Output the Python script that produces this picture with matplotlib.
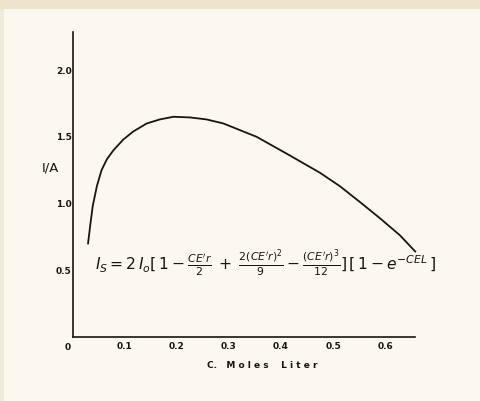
import matplotlib.pyplot as plt
from matplotlib.patches import Rectangle

# curve (C in mol/L, I/A)
conc = [0.029, 0.033, 0.038, 0.046, 0.055, 0.065, 0.078, 0.097, 0.116,
        0.142, 0.167, 0.193, 0.225, 0.257, 0.289, 0.321, 0.353, 0.385,
        0.417, 0.437, 0.475, 0.513, 0.552, 0.590, 0.629, 0.658]
ratio = [0.70, 0.83, 0.98, 1.13, 1.25, 1.33, 1.40, 1.48, 1.54,
         1.60, 1.63, 1.65, 1.645, 1.63, 1.60, 1.55, 1.50, 1.43,
         1.36, 1.315, 1.23, 1.13, 1.01, 0.89, 0.76, 0.64]

xticks = [0.1, 0.2, 0.3, 0.4, 0.5, 0.6]
xticklabels = ['0.1', '0.2', '0.3', '0.4', '0.5', '0.6']
yticks = [0.5, 1.0, 1.5, 2.0]
yticklabels = ['0.5', '1.0', '1.5', '2.0']

bg = '#fbf9ef'
ink = '#1a1410'
plt.rcParams['mathtext.fontset'] = 'dejavusans'

fig = plt.figure(figsize=(4.8, 4.01), dpi=100, facecolor=bg)
# scanner edge at the top and left
fig.patches.append(Rectangle((0, 0.978), 1, 0.022, transform=fig.transFigure,
                             facecolor='#ece5cc', edgecolor='none'))
fig.patches.append(Rectangle((0, 0), 0.008, 0.978, transform=fig.transFigure,
                             facecolor='#eeebdc', edgecolor='none'))

ax = fig.add_axes([0.152, 0.160, 0.713, 0.760], facecolor=bg)
ax.plot(conc, ratio, color=ink, lw=1.3, clip_on=False,
        solid_joinstyle='round')

ax.set_xlim(0, 0.658)
ax.set_ylim(0, 2.285)
for s in ['top', 'right']:
    ax.spines[s].set_visible(False)
for s in ['left', 'bottom']:
    ax.spines[s].set_color(ink)
    ax.spines[s].set_linewidth(1.2)

ax.set_xticks(xticks)
ax.set_xticklabels(xticklabels, fontsize=6.5, fontweight='bold', color=ink)
ax.set_yticks(yticks)
ax.set_yticklabels(yticklabels, fontsize=6.5, fontweight='bold', color=ink)
ax.tick_params(length=0)
ax.tick_params(axis='x', pad=4)
ax.tick_params(axis='y', pad=1)
ax.text(-0.004, -0.045, '0', fontsize=6.5, fontweight='bold', color=ink,
        ha='right', va='top')

fig.text(262 / 480, 1 - 366 / 401, 'C.   M o l e s    L i t e r',
         fontsize=6.5, fontweight='bold', color=ink, ha='center', va='center')
fig.text(50 / 480, 1 - 168 / 401, 'I/A', fontsize=9.5, color=ink,
         ha='center', va='center')

eq = (r"$I_S = 2\,I_o[\,1-\frac{CE'r}{2}\;+\;\frac{2(CE'r)^2}{9}"
      r"-\frac{(CE'r)^3}{12}]\,[\,1-e^{-CEL}\,]$")
fig.text(95 / 480, 1 - 263 / 401, eq, fontsize=11.2, color=ink,
         ha='left', va='center')

fig.savefig('out.png', dpi=100, facecolor=bg)
